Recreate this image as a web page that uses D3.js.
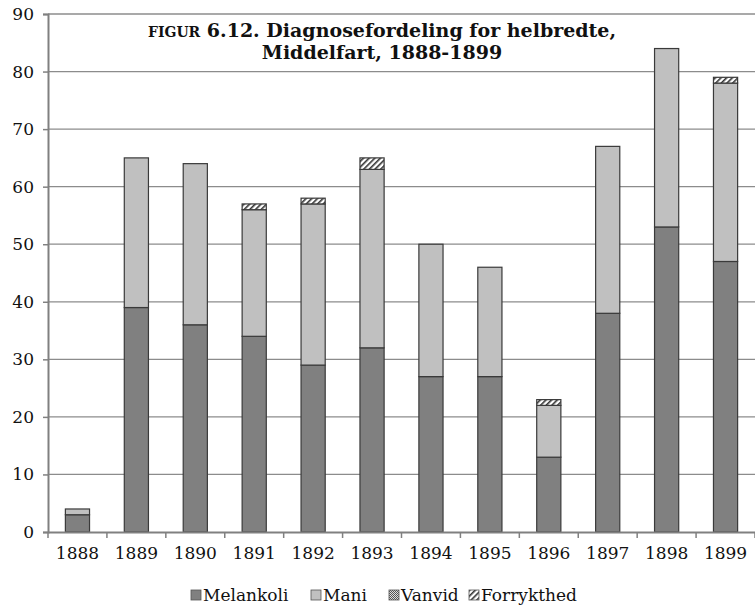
<!DOCTYPE html>
<html>
<head>
<meta charset="utf-8">
<script src="https://cdnjs.cloudflare.com/ajax/libs/d3/7.8.5/d3.min.js"></script>
<style>
  body { margin: 0; background: #fff; }
  text { font-family: Georgia, "DejaVu Serif", serif; fill: #111; }
</style>
</head>
<body>
<svg></svg>
<script>
var width = 755;
var height = 608;

var years = ['1888', '1889', '1890', '1891', '1892', '1893', '1894', '1895', '1896', '1897', '1898', '1899'];
var melankoli = [3, 39, 36, 34, 29, 32, 27, 27, 13, 38, 53, 47];
var mani = [1, 26, 28, 22, 28, 31, 23, 19, 9, 29, 31, 31];
var vanvid = [0, 0, 0, 0, 0, 0, 0, 0, 0, 0, 0, 0];
var forrykthed = [0, 0, 0, 1, 1, 2, 0, 0, 1, 0, 0, 1];
var seriesNames = ['Melankoli', 'Mani', 'Vanvid', 'Forrykthed'];
var yTicks = [0, 10, 20, 30, 40, 50, 60, 70, 80, 90];

var svg = d3.select('svg')
    .attr('width', width)
    .attr('height', height);

// patterns for the two small categories
var defs = svg.append('defs');
var hatch = defs.append('pattern')
    .attr('id', 'hatch')
    .attr('patternUnits', 'userSpaceOnUse')
    .attr('width', 4).attr('height', 4)
    .attr('patternTransform', 'rotate(45)');
hatch.append('rect').attr('width', 4).attr('height', 4).attr('fill', '#fff');
hatch.append('rect').attr('width', 1.6).attr('height', 4).attr('fill', '#333');

var checks = defs.append('pattern')
    .attr('id', 'checks')
    .attr('patternUnits', 'userSpaceOnUse')
    .attr('width', 2).attr('height', 2);
checks.append('rect').attr('width', 2).attr('height', 2).attr('fill', '#ddd');
checks.append('rect').attr('width', 1).attr('height', 1).attr('fill', '#555');
checks.append('rect').attr('x', 1).attr('y', 1).attr('width', 1).attr('height', 1).attr('fill', '#555');

var fills = ['#808080', '#c0c0c0', 'url(#checks)', 'url(#hatch)'];

var margin = { left: 48, right: 0, top: 14, bottom: 76 };

var x = d3.scaleBand()
    .domain(years)
    .range([margin.left, width - margin.right])
    .paddingInner(0.59)
    .paddingOuter(0.295);

var y = d3.scaleLinear()
    .domain([0, 90])
    .range([height - margin.bottom, margin.top]);

// gridlines
svg.append('g')
    .selectAll('line')
    .data(yTicks.slice(1))
    .enter()
    .append('line')
    .attr('x1', margin.left)
    .attr('x2', width)
    .attr('y1', function (d) { return y(d); })
    .attr('y2', function (d) { return y(d); })
    .attr('stroke', '#8c8c8c')
    .attr('stroke-width', 1.3);

// stacked bars
var table = years.map(function (yr, i) {
    return { year: yr, Melankoli: melankoli[i], Mani: mani[i], Vanvid: vanvid[i], Forrykthed: forrykthed[i] };
});
var stack = d3.stack().keys(seriesNames)(table);

svg.append('g')
    .selectAll('g')
    .data(stack)
    .enter()
    .append('g')
    .attr('fill', function (d, i) { return fills[i]; })
    .selectAll('rect')
    .data(function (d) { return d.filter(function (p) { return p[1] > p[0]; }); })
    .enter()
    .append('rect')
    .attr('x', function (d) { return x(d.data.year); })
    .attr('width', x.bandwidth())
    .attr('y', function (d) { return y(d[1]); })
    .attr('height', function (d) { return y(d[0]) - y(d[1]); })
    .attr('stroke', '#3a3a3a')
    .attr('stroke-width', 1.2);

// y axis
var yAxis = svg.append('g')
    .attr('transform', 'translate(' + margin.left + ',0)')
    .call(d3.axisLeft(y).tickValues(yTicks).tickSize(5).tickPadding(9));
yAxis.select('.domain').attr('stroke', '#808080').attr('stroke-width', 2);
yAxis.selectAll('.tick line').attr('stroke', '#808080').attr('stroke-width', 1.5);
yAxis.selectAll('.tick text')
    .style('font-family', 'Georgia, "DejaVu Serif", serif')
    .attr('font-size', 17)
    .attr('fill', '#111');

// x axis
var xAxis = svg.append('g')
    .attr('transform', 'translate(0,' + y(0) + ')')
    .call(d3.axisBottom(x).tickSize(0).tickPadding(15));
xAxis.select('.domain').attr('stroke', '#808080').attr('stroke-width', 2);
xAxis.selectAll('.tick text')
    .style('font-family', 'Georgia, "DejaVu Serif", serif')
    .attr('font-size', 17)
    .attr('fill', '#111');

// tick marks between the bands
var step = x.step();
svg.append('g')
    .selectAll('line')
    .data(d3.range(years.length + 1))
    .enter()
    .append('line')
    .attr('x1', function (i) { return margin.left + i * step; })
    .attr('x2', function (i) { return margin.left + i * step; })
    .attr('y1', y(0))
    .attr('y2', y(0) + 6)
    .attr('stroke', '#808080')
    .attr('stroke-width', 1.5);

// title
var title = svg.append('text')
    .attr('text-anchor', 'middle')
    .attr('font-weight', 'bold')
    .attr('font-size', 19);
var t1 = title.append('tspan').attr('x', 382).attr('y', 37);
t1.append('tspan').attr('font-size', 14).text('FIGUR');
t1.append('tspan').text(' 6.12. Diagnosefordeling for helbredte,');
title.append('tspan').attr('x', 382).attr('y', 59).text('Middelfart, 1888-1899');

// legend
var legendX = [191, 311, 389, 469];
var legend = svg.append('g')
    .selectAll('g')
    .data(seriesNames)
    .enter()
    .append('g')
    .attr('transform', function (d, i) { return 'translate(' + legendX[i] + ',601)'; });
legend.append('rect')
    .attr('x', 0).attr('y', -11)
    .attr('width', 10).attr('height', 10)
    .attr('fill', function (d, i) { return fills[i]; })
    .attr('stroke', '#555')
    .attr('stroke-width', 0.8);
legend.append('text')
    .attr('x', 12)
    .attr('font-size', 17)
    .text(function (d) { return d; });
</script>
</body>
</html>
